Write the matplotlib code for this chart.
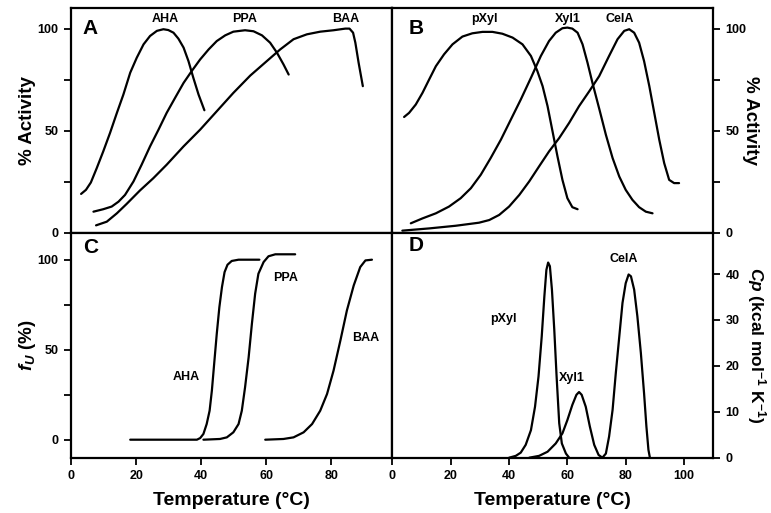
import matplotlib
matplotlib.use("Agg")
import matplotlib.pyplot as plt

plt.rcParams['font.family'] = ['Liberation Sans', 'DejaVu Sans']
plt.rcParams['font.weight'] = 'bold'
plt.rcParams['mathtext.fontset'] = 'custom'
plt.rcParams['mathtext.it'] = 'Liberation Sans:italic:bold'
plt.rcParams['mathtext.rm'] = 'Liberation Sans:bold'

# ---- Panel A: % Activity (temperature profiles) ----
aha_a_x = [3.1, 4.6, 6.1, 7.9, 9.9, 12.0, 14.1, 16.1, 18.2, 20.2, 22.3, 24.3, 26.4, 28.4, 29.9,
           31.5, 33.0, 34.6, 36.1, 37.6, 39.2, 41.0]
aha_a_y = [19.0, 21.0, 24.6, 31.6, 39.8, 48.9, 58.7, 67.7, 78.4, 85.7, 92.3, 96.4, 98.9, 99.7, 99.3,
           98.0, 95.1, 90.7, 84.1, 75.9, 67.7, 60.0]
ppa_a_x = [6.9, 9.9, 12.5, 14.6, 16.6, 19.2, 21.7, 24.3, 26.9, 29.4, 32.0, 34.6, 37.1, 39.7, 42.3,
           44.8, 47.4, 49.9, 53.5, 56.1, 58.7, 61.2, 63.3, 65.3, 66.9]
ppa_a_y = [10.3, 11.5, 12.8, 15.2, 18.5, 25.1, 33.3, 42.3, 50.5, 58.7, 66.1, 73.4, 79.2, 84.9, 89.8,
           93.9, 96.7, 98.5, 99.2, 98.7, 96.7, 93.1, 88.2, 82.5, 77.5]
baa_a_x = [7.7, 11.0, 14.1, 17.1, 21.2, 25.3, 29.4, 34.6, 39.7, 44.8, 49.9, 55.1, 60.2, 64.3, 68.4,
           72.5, 76.6, 80.7, 84.3, 85.6, 86.7, 87.4, 88.4, 89.7]
baa_a_y = [3.6, 5.4, 9.5, 14.1, 20.7, 26.7, 33.3, 42.3, 50.5, 59.5, 68.5, 77.0, 84.1, 89.8, 94.8,
           97.2, 98.5, 99.2, 100.0, 100.0, 98.0, 93.1, 83.3, 71.8]

# ---- Panel B: % Activity ----
pxyl_b_x = [4.0, 5.7, 8.0, 10.3, 12.6, 14.9, 17.7, 20.6, 24.0, 27.4, 30.9, 34.3, 37.7, 41.2, 44.6,
            47.5, 49.7, 51.5, 53.2, 54.9, 56.6, 58.3, 60.0, 61.7, 63.5]
pxyl_b_y = [56.7, 58.7, 62.8, 68.5, 75.1, 81.6, 87.4, 92.3, 96.1, 97.7, 98.4, 98.4, 97.5, 95.6, 92.3,
            86.6, 79.2, 71.8, 62.0, 49.7, 37.4, 25.9, 16.9, 12.5, 11.5]
xyl1_b_x = [6.3, 10.3, 14.9, 19.4, 23.4, 26.9, 30.3, 33.7, 37.2, 40.6, 44.0, 47.5, 50.9, 53.7, 56.0,
            58.3, 60.0, 61.7, 63.5, 65.2, 66.9, 68.6, 71.0, 73.2, 75.5, 77.8, 80.0, 82.3, 84.6,
            86.9, 89.2]
xyl1_b_y = [4.6, 7.0, 9.5, 12.8, 16.9, 21.8, 28.4, 36.6, 45.6, 55.4, 65.2, 75.9, 86.6, 93.9, 98.0,
            100.2, 100.5, 100.0, 98.0, 92.3, 83.3, 73.4, 60.3, 48.0, 36.6, 27.5, 21.0, 16.1, 12.5,
            10.3, 9.5]
cela_b_x = [3.4, 12.6, 21.7, 29.7, 33.2, 36.6, 40.0, 43.5, 46.9, 50.3, 53.7, 57.2, 60.6, 64.0, 67.5,
            70.9, 74.3, 77.2, 79.5, 81.2, 82.9, 84.6, 86.3, 88.1, 89.8, 91.5, 93.2, 94.9, 96.6, 98.3]
cela_b_y = [1.0, 2.1, 3.4, 4.9, 6.2, 8.7, 12.8, 18.5, 25.1, 32.5, 39.8, 46.4, 53.8, 62.0, 69.3,
            76.7, 86.6, 94.8, 98.9, 99.7, 98.0, 93.1, 84.1, 71.8, 58.7, 45.6, 34.1, 25.9, 24.3, 24.3]

# ---- Panel C: fraction unfolded fU (%) ----
aha_c_x = [18.2, 38.7, 39.7, 40.7, 41.7, 42.6, 43.3, 44.0, 44.8, 45.6, 46.4, 47.2, 48.1, 49.4,
           51.5, 57.9]
aha_c_y = [0.0, 0.0, 0.9, 3.2, 8.7, 16.1, 27.3, 42.1, 58.8, 73.6, 84.8, 93.1, 97.2, 99.3,
           100.0, 100.0]
ppa_c_x = [40.7, 45.8, 47.9, 49.9, 51.5, 52.5, 53.5, 54.6, 55.6, 56.6, 57.6, 59.2, 60.7, 62.8, 68.9]
ppa_c_y = [0.0, 0.4, 1.3, 4.1, 8.7, 16.1, 29.1, 45.8, 64.4, 81.1, 92.2, 98.7, 101.9, 103.0, 103.0]
baa_c_x = [59.7, 65.3, 68.4, 71.5, 74.1, 76.6, 78.7, 80.7, 82.8, 84.8, 86.9, 88.9, 90.5, 92.5]
baa_c_y = [0.0, 0.4, 1.3, 4.1, 8.7, 16.1, 25.4, 38.4, 55.1, 71.8, 85.7, 95.9, 99.6, 100.0]

# ---- Panel D: Cp (kcal mol-1 K-1) ----
pxyl_d_x = [40.0, 42.3, 44.0, 45.7, 47.5, 48.9, 50.1, 51.2, 52.1, 52.8, 53.4, 54.0, 54.7, 55.5,
            56.3, 57.2, 58.1, 59.5, 60.6]
pxyl_d_y = [0.0, 0.4, 1.1, 2.8, 6.0, 11.1, 17.7, 26.4, 35.1, 40.9, 42.5, 41.7, 36.6, 27.9,
            17.7, 7.5, 3.1, 0.9, 0.0]
xyl1_d_x = [46.9, 50.3, 53.2, 56.0, 58.3, 60.0, 61.7, 63.1, 64.0, 64.9, 66.3, 67.7, 69.2, 70.7, 72.0]
xyl1_d_y = [0.0, 0.4, 1.3, 3.1, 5.3, 8.2, 11.5, 13.7, 14.3, 13.7, 11.1, 6.8, 2.8, 0.6, 0.0]
cela_d_x = [72.0, 73.2, 74.3, 75.5, 76.6, 77.8, 78.9, 80.0, 81.0, 81.8, 82.9, 84.0, 85.2, 86.3,
            87.1, 87.8, 88.3]
cela_d_y = [0.0, 0.9, 4.6, 10.4, 18.4, 26.4, 33.7, 38.0, 39.9, 39.5, 36.6, 30.8, 22.8, 14.0,
            6.8, 1.7, 0.0]

pct_ticks = [0, 25, 50, 75, 100]
pct_labels = ['0', '', '50', '', '100']
left_xticks = [0, 20, 40, 60, 80]
right_xticks = [0, 20, 40, 60, 80, 100]
cp_ticks = [0, 10, 20, 30, 40]

fig = plt.figure(figsize=(7.71, 5.13), dpi=100)
L, M, R = 0.0921, 0.509, 0.925
B0, MID, T = 0.1078, 0.5464, 0.984
axA = fig.add_axes([L, MID, M - L, T - MID])
axB = fig.add_axes([M, MID, R - M, T - MID])
axC = fig.add_axes([L, B0, M - L, MID - B0])
axD = fig.add_axes([M, B0, R - M, MID - B0])

lw = 1.6
tickfs = 9
lblfs = 9
for ax in (axA, axB, axC, axD):
    for s in ax.spines.values():
        s.set_linewidth(1.6)
    ax.tick_params(direction='out', length=5, width=1.3, labelsize=tickfs, pad=4)

def curve(ax, x, y):
    ax.plot(x, y, color='black', lw=lw, solid_joinstyle='round', solid_capstyle='round')

# Panel A
curve(axA, aha_a_x, aha_a_y)
curve(axA, ppa_a_x, ppa_a_y)
curve(axA, baa_a_x, baa_a_y)
axA.set_xlim(0, 98.8)
axA.set_ylim(0, 110)
axA.set_xticks(left_xticks)
axA.set_xticklabels([])
axA.set_yticks(pct_ticks)
axA.set_yticklabels(pct_labels, fontweight='bold')
axA.set_ylabel('% Activity', fontsize=13.5, fontweight='bold', labelpad=1)
axA.text(6, 100, 'A', fontsize=15, fontweight='bold', ha='center', va='center')
axA.text(29.1, 104.5, 'AHA', fontsize=lblfs, fontweight='bold', ha='center', va='center')
axA.text(53.2, 104.5, 'PPA', fontsize=lblfs, fontweight='bold', ha='center', va='center')
axA.text(84.3, 104.5, 'BAA', fontsize=lblfs, fontweight='bold', ha='center', va='center')

# Panel B
curve(axB, pxyl_b_x, pxyl_b_y)
curve(axB, xyl1_b_x, xyl1_b_y)
curve(axB, cela_b_x, cela_b_y)
axB.set_xlim(0, 110)
axB.set_ylim(0, 110)
axB.set_xticks(right_xticks)
axB.set_xticklabels([])
axB.yaxis.tick_right()
axB.yaxis.set_label_position('right')
axB.set_yticks(pct_ticks)
axB.set_yticklabels(pct_labels, fontweight='bold')
axB.set_ylabel('% Activity', fontsize=13.5, fontweight='bold', rotation=-90, labelpad=9)
axB.text(8, 100, 'B', fontsize=15, fontweight='bold', ha='center', va='center')
axB.text(31.5, 104.5, 'pXyl', fontsize=lblfs, fontweight='bold', ha='center', va='center')
axB.text(60, 104.5, 'Xyl1', fontsize=lblfs, fontweight='bold', ha='center', va='center')
axB.text(77.8, 104.5, 'CelA', fontsize=lblfs, fontweight='bold', ha='center', va='center')

# Panel C
curve(axC, aha_c_x, aha_c_y)
curve(axC, ppa_c_x, ppa_c_y)
curve(axC, baa_c_x, baa_c_y)
axC.set_xlim(0, 98.8)
axC.set_ylim(-10, 115)
axC.set_xticks(left_xticks)
axC.set_xticklabels([str(v) for v in left_xticks], fontweight='bold')
axC.set_yticks(pct_ticks)
axC.set_yticklabels(pct_labels, fontweight='bold')
axC.set_ylabel(r'$f_U$ (%)', fontsize=13.5, fontweight='bold', labelpad=0)
axC.set_xlabel('Temperature (°C)', fontsize=14, fontweight='bold', labelpad=7)
axC.text(6, 107, 'C', fontsize=15, fontweight='bold', ha='center', va='center')
axC.text(35.4, 34.7, 'AHA', fontsize=lblfs, fontweight='bold', ha='center', va='center')
axC.text(65.8, 89.8, 'PPA', fontsize=lblfs, fontweight='bold', ha='center', va='center')
axC.text(90.5, 56.6, 'BAA', fontsize=lblfs, fontweight='bold', ha='center', va='center')

# Panel D
curve(axD, pxyl_d_x, pxyl_d_y)
curve(axD, xyl1_d_x, xyl1_d_y)
curve(axD, cela_d_x, cela_d_y)
axD.set_xlim(0, 110)
axD.set_ylim(0, 49)
axD.set_xticks(right_xticks)
axD.set_xticklabels([str(v) for v in right_xticks], fontweight='bold')
axD.yaxis.tick_right()
axD.yaxis.set_label_position('right')
axD.set_yticks(cp_ticks)
axD.set_yticklabels([str(v) for v in cp_ticks], fontweight='bold')
axD.set_ylabel(r'$Cp$ (kcal mol$^{\mathregular{-1}}$ K$^{\mathregular{-1}}$)', fontsize=12.5,
               fontweight='bold', rotation=-90, labelpad=20)
axD.set_xlabel('Temperature (°C)', fontsize=14, fontweight='bold', labelpad=7)
axD.text(8, 46.3, 'D', fontsize=15, fontweight='bold', ha='center', va='center')
axD.text(38.2, 30.1, 'pXyl', fontsize=lblfs, fontweight='bold', ha='center', va='center')
axD.text(61.5, 17.4, 'Xyl1', fontsize=lblfs, fontweight='bold', ha='center', va='center')
axD.text(79.3, 43.3, 'CelA', fontsize=lblfs, fontweight='bold', ha='center', va='center')

fig.savefig('out.png', dpi=100)
